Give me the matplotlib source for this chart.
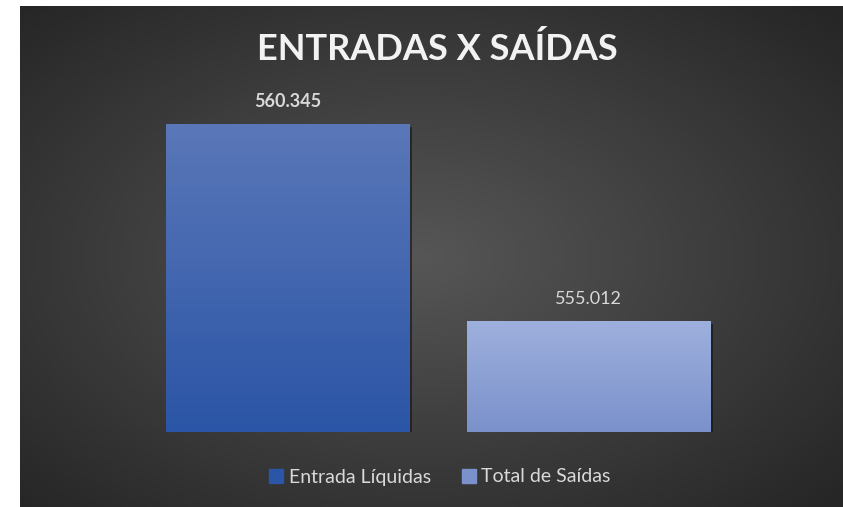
import numpy as np
import matplotlib.pyplot as plt
import matplotlib.patheffects as pe
from matplotlib.colors import LinearSegmentedColormap

plt.rcParams['font.family'] = ['Lato', 'DejaVu Sans']

categories = ["Entrada Líquidas", "Total de Saídas"]
values = [560.345, 555.012]
labels = ["560.345", "555.012"]
top_colors = ["#5a77b8", "#9eb0dd"]
bottom_colors = ["#2b55a6", "#7b91cb"]
title = "ENTRADAS X SAÍDAS"

W, H = 843, 507
fig = plt.figure(figsize=(W / 100, H / 100), dpi=100)
fig.patch.set_facecolor("white")

# dark radial background
bg = fig.add_axes([20 / W, 0, (W - 20) / W, (H - 6) / H])
bg.set_axis_off()
yy, xx = np.mgrid[0:200, 0:330]
r = np.sqrt(((xx - 160) / 330) ** 2 + ((yy - 100) / 200) ** 2) / 0.7
r = np.clip(r, 0, 1)
bg_cmap = LinearSegmentedColormap.from_list("bg", ["#565656", "#3e3e3e", "#262626"])
bg.imshow(r, cmap=bg_cmap, aspect="auto", extent=[0, 1, 0, 1], vmin=0, vmax=1)
bg.set_xlim(0, 1)
bg.set_ylim(0, 1)

# main axes, placed in pixel units
left_px, right_px = 137.25, 738.75
bottom_px, top_px = 432, 62.6
ax = fig.add_axes([left_px / W, (H - bottom_px) / H,
                   (right_px - left_px) / W, (bottom_px - top_px) / H])
ax.set_facecolor("none")
ax.set_axis_off()

x = np.arange(len(values))
bars = ax.bar(x, values, width=0.809, color=bottom_colors, zorder=2,
              path_effects=[pe.SimplePatchShadow(offset=(2, -2), shadow_rgbFace="#111111", alpha=0.6),
                            pe.Normal()])

grad = np.linspace(0, 1, 256).reshape(-1, 1)
for b, c0, c1 in zip(bars, top_colors, bottom_colors):
    cm = LinearSegmentedColormap.from_list("g", [c1, c0])
    x0 = b.get_x()
    x1 = x0 + b.get_width()
    im = ax.imshow(grad, cmap=cm, aspect="auto", origin="lower",
                   extent=[x0, x1, 552, b.get_height()], zorder=3)
    im.set_clip_path(b)

ax.set_xlim(-0.5, 1.5)
ax.set_ylim(552, 562)

for i, (v, lab) in enumerate(zip(values, labels)):
    ax.annotate(lab, (x[i], v), xytext=(0, 10), textcoords="offset points",
                ha="center", va="bottom", fontsize=13, color="#d9d9d9",
                fontweight="bold" if i == 0 else "normal")

fig.text(437 / W, 1 - 49 / H, title, ha="center", va="center",
         fontsize=26, fontweight="bold", color="#f2f2f2")

handles = [plt.Rectangle((0, 0), 1, 1, color=c) for c in bottom_colors]
fig.legend(handles, categories, loc="center", bbox_to_anchor=(440 / W, 1 - 477 / H),
           ncol=2, frameon=False, fontsize=14, labelcolor="#d9d9d9",
           handlelength=0.7, handleheight=0.7, handletextpad=0.3, columnspacing=1.6)

fig.savefig("out.png", dpi=100, facecolor=fig.get_facecolor())
